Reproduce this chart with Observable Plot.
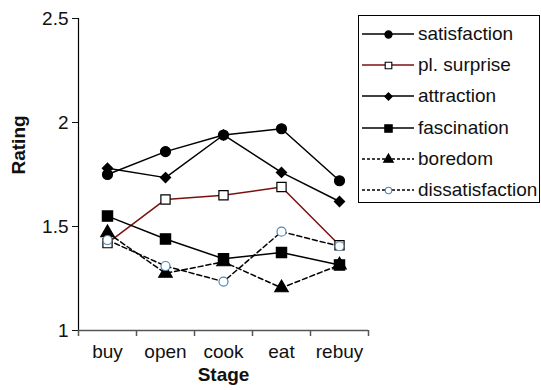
<!DOCTYPE html>
<html>
<head>
<meta charset="utf-8">
<script src="https://cdn.jsdelivr.net/npm/d3@7"></script>
<script src="https://cdn.jsdelivr.net/npm/@observablehq/plot@0.6"></script>
<style>
  body { margin: 0; background: #fff; font-family: "Liberation Sans", Arial, sans-serif; }
  #wrap { position: relative; width: 541px; height: 390px; }
  #legend { position: absolute; left: 358px; top: 15px; width: 182px; height: 188px; border: 1px solid #000; box-sizing: border-box; background: #fff; }
  .row { position: absolute; left: 1px; height: 30px; display: flex; align-items: center; font-size: 19px; color: #111; }
  .row svg { margin-right: 4px; }
</style>
</head>
<body>
<div id="wrap"><div id="chart"></div><div id="legend"></div></div>
<script>
const stages = ["buy", "open", "cook", "eat", "rebuy"];
const satisfaction    = [1.75, 1.86, 1.94, 1.97, 1.72];
const plSurprise      = [1.42, 1.63, 1.65, 1.69, 1.41];
const attraction      = [1.78, 1.735, 1.94, 1.76, 1.62];
const fascination     = [1.55, 1.44, 1.345, 1.375, 1.315];
const boredom         = [1.47, 1.275, 1.33, 1.205, 1.315];
const dissatisfaction = [1.435, 1.31, 1.235, 1.475, 1.405];
const yTicks = [1, 1.5, 2, 2.5];

const seriesDefs = [
  {name: "satisfaction", values: satisfaction, color: "#000", dash: null, symbol: "circle", fill: "#000", r: 5, mstroke: "#000"},
  {name: "pl. surprise", values: plSurprise, color: "#7a1010", dash: null, symbol: "square", fill: "#fff", r: 5.2, mstroke: "#000"},
  {name: "attraction", values: attraction, color: "#000", dash: null, symbol: "diamond2", fill: "#000", r: 4.6, mstroke: "#000"},
  {name: "fascination", values: fascination, color: "#000", dash: null, symbol: "square", fill: "#000", r: 5.8, mstroke: "#000"},
  {name: "boredom", values: boredom, color: "#000", dash: "5,3", symbol: "triangle", fill: "#000", r: 5, mstroke: "#000"},
  {name: "dissatisfaction", values: dissatisfaction, color: "#000", dash: "5,3", symbol: "circle", fill: "#fff", r: 4.5, mstroke: "#4f86b0"}
];

const marks = [];
marks.push(Plot.ruleX([0.5], {y1: 1, y2: 2.5, stroke: "#000", strokeWidth: 1.2}));
marks.push(Plot.ruleY([1], {x1: 0.5, x2: 5.5, stroke: "#555", strokeWidth: 1.5}));
marks.push(Plot.axisY({ticks: yTicks, tickSize: 6, tickPadding: 4, fontSize: 19, tickFormat: d => String(d), label: null}));
marks.push(Plot.axisX({ticks: [0.5, 1.5, 2.5, 3.5, 4.5, 5.5], tickSize: 6, stroke: "#555", strokeWidth: 1.5, tickFormat: () => "", label: null}));
marks.push(Plot.axisX({ticks: [1, 2, 3, 4, 5], tickSize: 0, tickPadding: 14, fontSize: 19, tickFormat: d => stages[d - 1], label: null}));
marks.push(Plot.text(["Rating"], {frameAnchor: "left", dx: -60, rotate: -90, fontWeight: "bold", fontSize: 19}));
marks.push(Plot.text(["Stage"], {frameAnchor: "bottom", dy: 50, fontWeight: "bold", fontSize: 19}));

for (const s of seriesDefs) {
  const data = s.values.map((v, i) => ({x: i + 1, y: v}));
  marks.push(Plot.line(data, {x: "x", y: "y", stroke: s.color, strokeWidth: 1.5, strokeDasharray: s.dash}));
}
for (const s of seriesDefs) {
  const data = s.values.map((v, i) => ({x: i + 1, y: v}));
  marks.push(Plot.dot(data, {x: "x", y: "y", symbol: s.symbol, r: s.r, fill: s.fill, stroke: s.mstroke, strokeWidth: 1.2}));
}

const chart = Plot.plot({
  width: 541, height: 390,
  marginLeft: 78, marginRight: 173, marginTop: 18, marginBottom: 60,
  style: {fontFamily: "Liberation Sans, Arial, sans-serif", color: "#111", background: "#fff"},
  x: {domain: [0.5, 5.5], axis: null},
  y: {domain: [1, 2.5], axis: null},
  marks
});
document.getElementById("chart").appendChild(chart);

const legend = document.getElementById("legend");
seriesDefs.forEach((s, i) => {
  const row = document.createElement("div");
  row.className = "row";
  row.style.top = (3 + i * 31.2) + "px";
  const mk = Plot.dot([0], {x: () => 28, y: () => 15, symbol: s.symbol, r: s.r * 0.72, fill: s.fill, stroke: s.mstroke, strokeWidth: 1.1}).plot({
    width: 54, height: 30, margin: 0,
    x: {type: "identity"}, y: {type: "identity"}, axis: null
  });
  const svg = d3.select(mk);
  svg.insert("line", ":first-child").attr("x1", 2).attr("x2", 54).attr("y1", 15).attr("y2", 15)
    .attr("stroke", s.color).attr("stroke-width", 1.5).attr("stroke-dasharray", s.dash ? "3,2" : null);
  row.appendChild(mk);
  const t = document.createElement("span");
  t.textContent = s.name;
  row.appendChild(t);
  legend.appendChild(row);
});
</script>
</body>
</html>
